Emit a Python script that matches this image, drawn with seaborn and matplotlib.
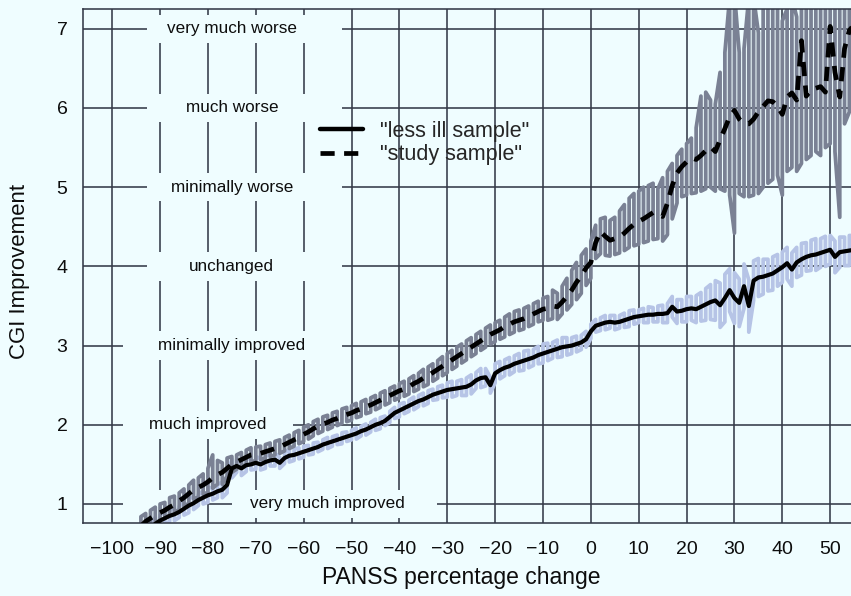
import matplotlib
matplotlib.use("Agg")
import matplotlib.pyplot as plt
import seaborn as sns
import pandas as pd
from matplotlib.patches import Rectangle
from matplotlib.lines import Line2D

# ---------------- data ----------------
x_change = list(range(-94, 56))  # PANSS percentage change sampling grid

less_mean = [
    0.55, 0.60, 0.68, 0.75, 0.79, 0.82, 0.85, 0.87, 0.90, 0.94,
    0.98, 1.01, 1.05, 1.08, 1.11, 1.13, 1.16, 1.18, 1.24, 1.45,
    1.48, 1.45, 1.49, 1.50, 1.52, 1.50, 1.53, 1.55, 1.56, 1.52,
    1.58, 1.61, 1.62, 1.64, 1.66, 1.68, 1.70, 1.72, 1.75, 1.77,
    1.79, 1.81, 1.83, 1.85, 1.87, 1.89, 1.92, 1.94, 1.97, 2.00,
    2.02, 2.05, 2.10, 2.15, 2.18, 2.21, 2.24, 2.27, 2.30, 2.32,
    2.35, 2.38, 2.40, 2.42, 2.44, 2.45, 2.46, 2.47, 2.48, 2.51,
    2.56, 2.59, 2.60, 2.50, 2.65, 2.69, 2.72, 2.74, 2.77, 2.79,
    2.81, 2.83, 2.85, 2.88, 2.90, 2.92, 2.94, 2.96, 2.98, 2.99,
    3.00, 3.02, 3.04, 3.08, 3.18, 3.25, 3.27, 3.29, 3.30, 3.29,
    3.30, 3.32, 3.34, 3.36, 3.37, 3.38, 3.39, 3.39, 3.40, 3.40,
    3.41, 3.49, 3.43, 3.44, 3.46, 3.47, 3.46, 3.49, 3.52, 3.55,
    3.57, 3.51, 3.60, 3.70, 3.60, 3.54, 3.75, 3.50, 3.82, 3.86,
    3.87, 3.89, 3.91, 3.95, 3.99, 4.04, 3.96, 4.05, 4.09, 4.12,
    4.14, 4.15, 4.17, 4.19, 4.21, 4.12, 4.18, 4.19, 4.20, 4.21,
]

less_ci = [
    0.06, 0.07, 0.07, 0.08, 0.07, 0.08, 0.07, 0.08, 0.07, 0.08,
    0.09, 0.08, 0.07, 0.08, 0.09, 0.08, 0.08, 0.10, 0.10, 0.12,
    0.08, 0.09, 0.08, 0.07, 0.08, 0.07, 0.08, 0.07, 0.08, 0.07,
    0.07, 0.08, 0.07, 0.07, 0.07, 0.06, 0.07, 0.06, 0.06, 0.07,
    0.06, 0.06, 0.07, 0.06, 0.06, 0.07, 0.06, 0.07, 0.06, 0.07,
    0.07, 0.06, 0.07, 0.07, 0.08, 0.07, 0.07, 0.08, 0.07, 0.08,
    0.08, 0.07, 0.08, 0.08, 0.09, 0.10, 0.09, 0.10, 0.11, 0.12,
    0.10, 0.12, 0.11, 0.10, 0.12, 0.11, 0.10, 0.11, 0.10, 0.11,
    0.12, 0.11, 0.10, 0.11, 0.12, 0.11, 0.10, 0.11, 0.12, 0.11,
    0.10, 0.10, 0.09, 0.10, 0.09, 0.08, 0.08, 0.09, 0.08, 0.09,
    0.08, 0.09, 0.10, 0.09, 0.08, 0.09, 0.10, 0.09, 0.10, 0.11,
    0.12, 0.13, 0.15, 0.14, 0.16, 0.15, 0.17, 0.18, 0.20, 0.22,
    0.25, 0.28, 0.30, 0.27, 0.32, 0.30, 0.28, 0.33, 0.25, 0.24,
    0.22, 0.20, 0.21, 0.20, 0.19, 0.20, 0.21, 0.19, 0.20, 0.18,
    0.19, 0.20, 0.18, 0.19, 0.18, 0.20, 0.19, 0.18, 0.19, 0.18,
]

study_mean = [
    0.72, 0.78, 0.82, 0.86, 0.89, 0.92, 0.96, 0.99, 1.04, 1.08,
    1.13, 1.18, 1.21, 1.24, 1.28, 1.33, 1.37, 1.40, 1.45, 1.50,
    1.53, 1.56, 1.59, 1.62, 1.63, 1.64, 1.66, 1.68, 1.70, 1.72,
    1.75, 1.78, 1.81, 1.84, 1.88, 1.91, 1.95, 1.98, 2.01, 2.03,
    2.06, 2.08, 2.11, 2.13, 2.15, 2.18, 2.20, 2.23, 2.25, 2.28,
    2.31, 2.34, 2.37, 2.40, 2.43, 2.45, 2.48, 2.52, 2.55, 2.59,
    2.62, 2.66, 2.70, 2.74, 2.78, 2.82, 2.86, 2.90, 2.94, 2.98,
    3.02, 3.06, 3.10, 3.14, 3.17, 3.20, 3.24, 3.27, 3.30, 3.32,
    3.34, 3.37, 3.40, 3.43, 3.46, 3.47, 3.50, 3.49, 3.55, 3.62,
    3.70, 3.80, 3.88, 3.98, 4.05, 4.30, 4.44, 4.38, 4.33, 4.35,
    4.37, 4.42, 4.48, 4.53, 4.57, 4.60, 4.64, 4.68, 4.66, 4.63,
    4.80, 5.02, 5.18, 5.26, 5.32, 5.37, 5.35, 5.40, 5.46, 5.51,
    5.45, 5.60, 5.74, 5.89, 5.97, 5.86, 5.80, 5.80, 5.86, 5.95,
    6.02, 6.09, 6.08, 6.02, 5.92, 6.14, 6.19, 6.10, 6.85, 6.15,
    6.23, 6.25, 6.27, 6.20, 7.03, 6.45, 6.14, 6.75, 6.98, 7.05,
]

study_lo = [
    0.62, 0.68, 0.72, 0.76, 0.79, 0.82, 0.86, 0.89, 0.93, 0.97,
    1.01, 1.06, 1.09, 1.12, 1.15, 1.20, 1.25, 1.25, 1.35, 1.40,
    1.44, 1.47, 1.50, 1.53, 1.55, 1.56, 1.58, 1.60, 1.62, 1.64,
    1.67, 1.70, 1.73, 1.76, 1.79, 1.82, 1.86, 1.89, 1.92, 1.94,
    1.97, 1.99, 2.02, 2.04, 2.06, 2.09, 2.11, 2.14, 2.16, 2.19,
    2.22, 2.25, 2.28, 2.31, 2.34, 2.36, 2.39, 2.42, 2.45, 2.48,
    2.51, 2.55, 2.59, 2.62, 2.66, 2.70, 2.74, 2.78, 2.82, 2.86,
    2.90, 2.94, 2.98, 3.02, 3.05, 3.08, 3.11, 3.14, 3.17, 3.19,
    3.21, 3.24, 3.27, 3.30, 3.32, 3.32, 3.34, 3.33, 3.40, 3.45,
    3.52, 3.58, 3.66, 3.76, 3.85, 4.10, 4.16, 4.14, 4.13, 4.15,
    4.17, 4.20, 4.24, 4.26, 4.28, 4.30, 4.32, 4.34, 4.35, 4.32,
    4.40, 4.60, 4.80, 4.88, 4.90, 4.92, 4.93, 4.95, 4.98, 5.00,
    4.95, 4.98, 4.95, 4.90, 4.42, 4.92, 4.88, 4.88, 4.90, 4.92,
    5.00, 5.05, 5.10, 5.15, 4.90, 5.20, 5.25, 5.20, 5.30, 5.35,
    5.40, 5.45, 5.40, 5.50, 5.55, 5.45, 4.62, 5.80, 5.95, 6.00,
]

study_hi = [
    0.84, 0.88, 0.92, 0.96, 1.00, 1.02, 1.08, 1.10, 1.14, 1.19,
    1.24, 1.30, 1.33, 1.38, 1.45, 1.62, 1.55, 1.52, 1.58, 1.60,
    1.62, 1.65, 1.68, 1.71, 1.72, 1.73, 1.75, 1.77, 1.79, 1.81,
    1.84, 1.87, 1.90, 1.93, 1.97, 2.00, 2.04, 2.07, 2.10, 2.12,
    2.15, 2.17, 2.20, 2.22, 2.24, 2.27, 2.29, 2.32, 2.34, 2.37,
    2.40, 2.43, 2.46, 2.49, 2.52, 2.55, 2.58, 2.62, 2.65, 2.70,
    2.73, 2.77, 2.81, 2.86, 2.90, 2.94, 2.98, 3.02, 3.06, 3.10,
    3.14, 3.18, 3.22, 3.26, 3.29, 3.32, 3.36, 3.40, 3.43, 3.45,
    3.47, 3.50, 3.53, 3.56, 3.60, 3.62, 3.70, 3.66, 3.75, 3.85,
    3.95, 4.05, 4.14, 4.22, 4.32, 4.52, 4.60, 4.62, 4.58, 4.62,
    4.70, 4.78, 4.86, 4.92, 4.95, 5.00, 5.02, 5.05, 4.98, 5.12,
    5.20, 5.30, 5.40, 5.48, 5.55, 5.62, 5.75, 6.15, 6.20, 6.10,
    6.05, 6.45, 6.70, 7.40, 7.45, 6.70, 6.75, 7.40, 7.40, 6.95,
    7.40, 7.40, 7.40, 7.35, 7.10, 7.25, 7.40, 7.15, 7.40, 7.40,
    7.40, 7.40, 7.40, 7.40, 7.40, 7.40, 7.40, 7.40, 7.40, 7.40,
]

x_ticks = [-100, -90, -80, -70, -60, -50, -40, -30, -20, -10, 0, 10, 20, 30, 40, 50]
y_ticks = [1, 2, 3, 4, 5, 6, 7]
cgi_labels = ["very much improved", "much improved", "minimally improved",
              "unchanged", "minimally worse", "much worse", "very much worse"]
series_labels = ['"less ill sample"', '"study sample"']

# ---------------- styling / layout ----------------
BG = "#effdff"
GRID = "#343a48"
BLUE = "#b6c4e6"
GRAY = "#7a8194"
INK = "#0d0d0d"

label_text_x = [-55, -80, -75, -75, -75, -75, -75]
label_boxes = [[(-97.8, -80.2), (-75.0, -32.2)], [(-97.8, -62.3)], [(-97.8, -52.0)],
               [(-92.7, -52.0)], [(-92.7, -52.0)], [(-92.7, -52.0)], [(-92.7, -52.0)]]

sns.set_theme(style="white")
plt.rcParams["font.family"] = ["Liberation Sans", "DejaVu Sans"]

fig = plt.figure(figsize=(8.51, 5.96), dpi=100, facecolor=BG)
ax = fig.add_axes([83 / 851, 1 - 523 / 596, 768 / 851, 514 / 596])
ax.set_facecolor(BG)

# grid lines
for xv in x_ticks:
    ax.axvline(xv, color=GRID, lw=1.15, zorder=1)
for yv in y_ticks:
    ax.axhline(yv, color=GRID, lw=1.15, zorder=1)

# label background boxes and labels
for yv, txt, tx, boxes in zip(y_ticks, cgi_labels, label_text_x, label_boxes):
    for x0, x1 in boxes:
        ax.add_patch(Rectangle((x0, yv - 0.18), x1 - x0, 0.36, facecolor=BG,
                               edgecolor="none", zorder=1.5))
    ax.text(tx, yv, txt, ha="center", va="center", fontsize=12.3, color=INK, zorder=5)


def zigzag(xs, lo, hi):
    px, py = [], []
    for i, (xv, l, h) in enumerate(zip(xs, lo, hi)):
        px += [xv, xv]
        py += [l, h] if i % 2 == 0 else [h, l]
    return px, py


less_lo = [m - c for m, c in zip(less_mean, less_ci)]
less_hi = [m + c for m, c in zip(less_mean, less_ci)]

bx, by = zigzag(x_change, less_lo, less_hi)
ax.plot(bx, by, color=BLUE, lw=2.7, zorder=2)
gx, gy = zigzag(x_change, study_lo, study_hi)
ax.plot(gx, gy, color=GRAY, lw=2.7, zorder=2.5)

df_less = pd.DataFrame({"x": x_change, "y": less_mean})
df_study = pd.DataFrame({"x": x_change, "y": study_mean})
sns.lineplot(data=df_less, x="x", y="y", color="black", lw=3.0, ax=ax,
             estimator=None, zorder=4)
sns.lineplot(data=df_study, x="x", y="y", color="black", lw=3.4, ax=ax,
             estimator=None, zorder=4)
ax.lines[-1].set_dashes([3.0, 2.0])

ax.set_xlim(-106.1, 54.35)
ax.set_ylim(0.76, 7.25)
ax.set_xticks(x_ticks)
ax.set_yticks(y_ticks)
ax.tick_params(axis="both", direction="out", length=7.2, width=1.0, color=GRID,
               labelsize=14, labelcolor=INK, pad=4)
ax.tick_params(axis="x", pad=6)

for side in ["left", "bottom", "top"]:
    ax.spines[side].set_visible(True)
    ax.spines[side].set_color(GRID)
    ax.spines[side].set_linewidth(1.15)
ax.spines["right"].set_visible(False)

ax.set_xlabel("PANSS percentage change", fontsize=16.5, color=INK)
ax.set_ylabel("CGI Improvement", fontsize=16, color=INK)
ax.xaxis.set_label_coords(0.492, -0.084)
ax.yaxis.set_label_coords(-0.069, 0.49)

handles = [Line2D([], [], color="black", lw=3.2),
           Line2D([], [], color="black", lw=3.4, linestyle=(0, (3.0, 2.0)))]
ax.legend(handles, series_labels, loc="upper left",
          bbox_to_anchor=(320 / 851, 1 - 121 / 596), bbox_transform=fig.transFigure,
          frameon=False, borderpad=0, borderaxespad=0, handlelength=2.0,
          handletextpad=0.8, labelspacing=0.1, fontsize=15.5)

fig.savefig("out.png", dpi=100, facecolor=BG)
